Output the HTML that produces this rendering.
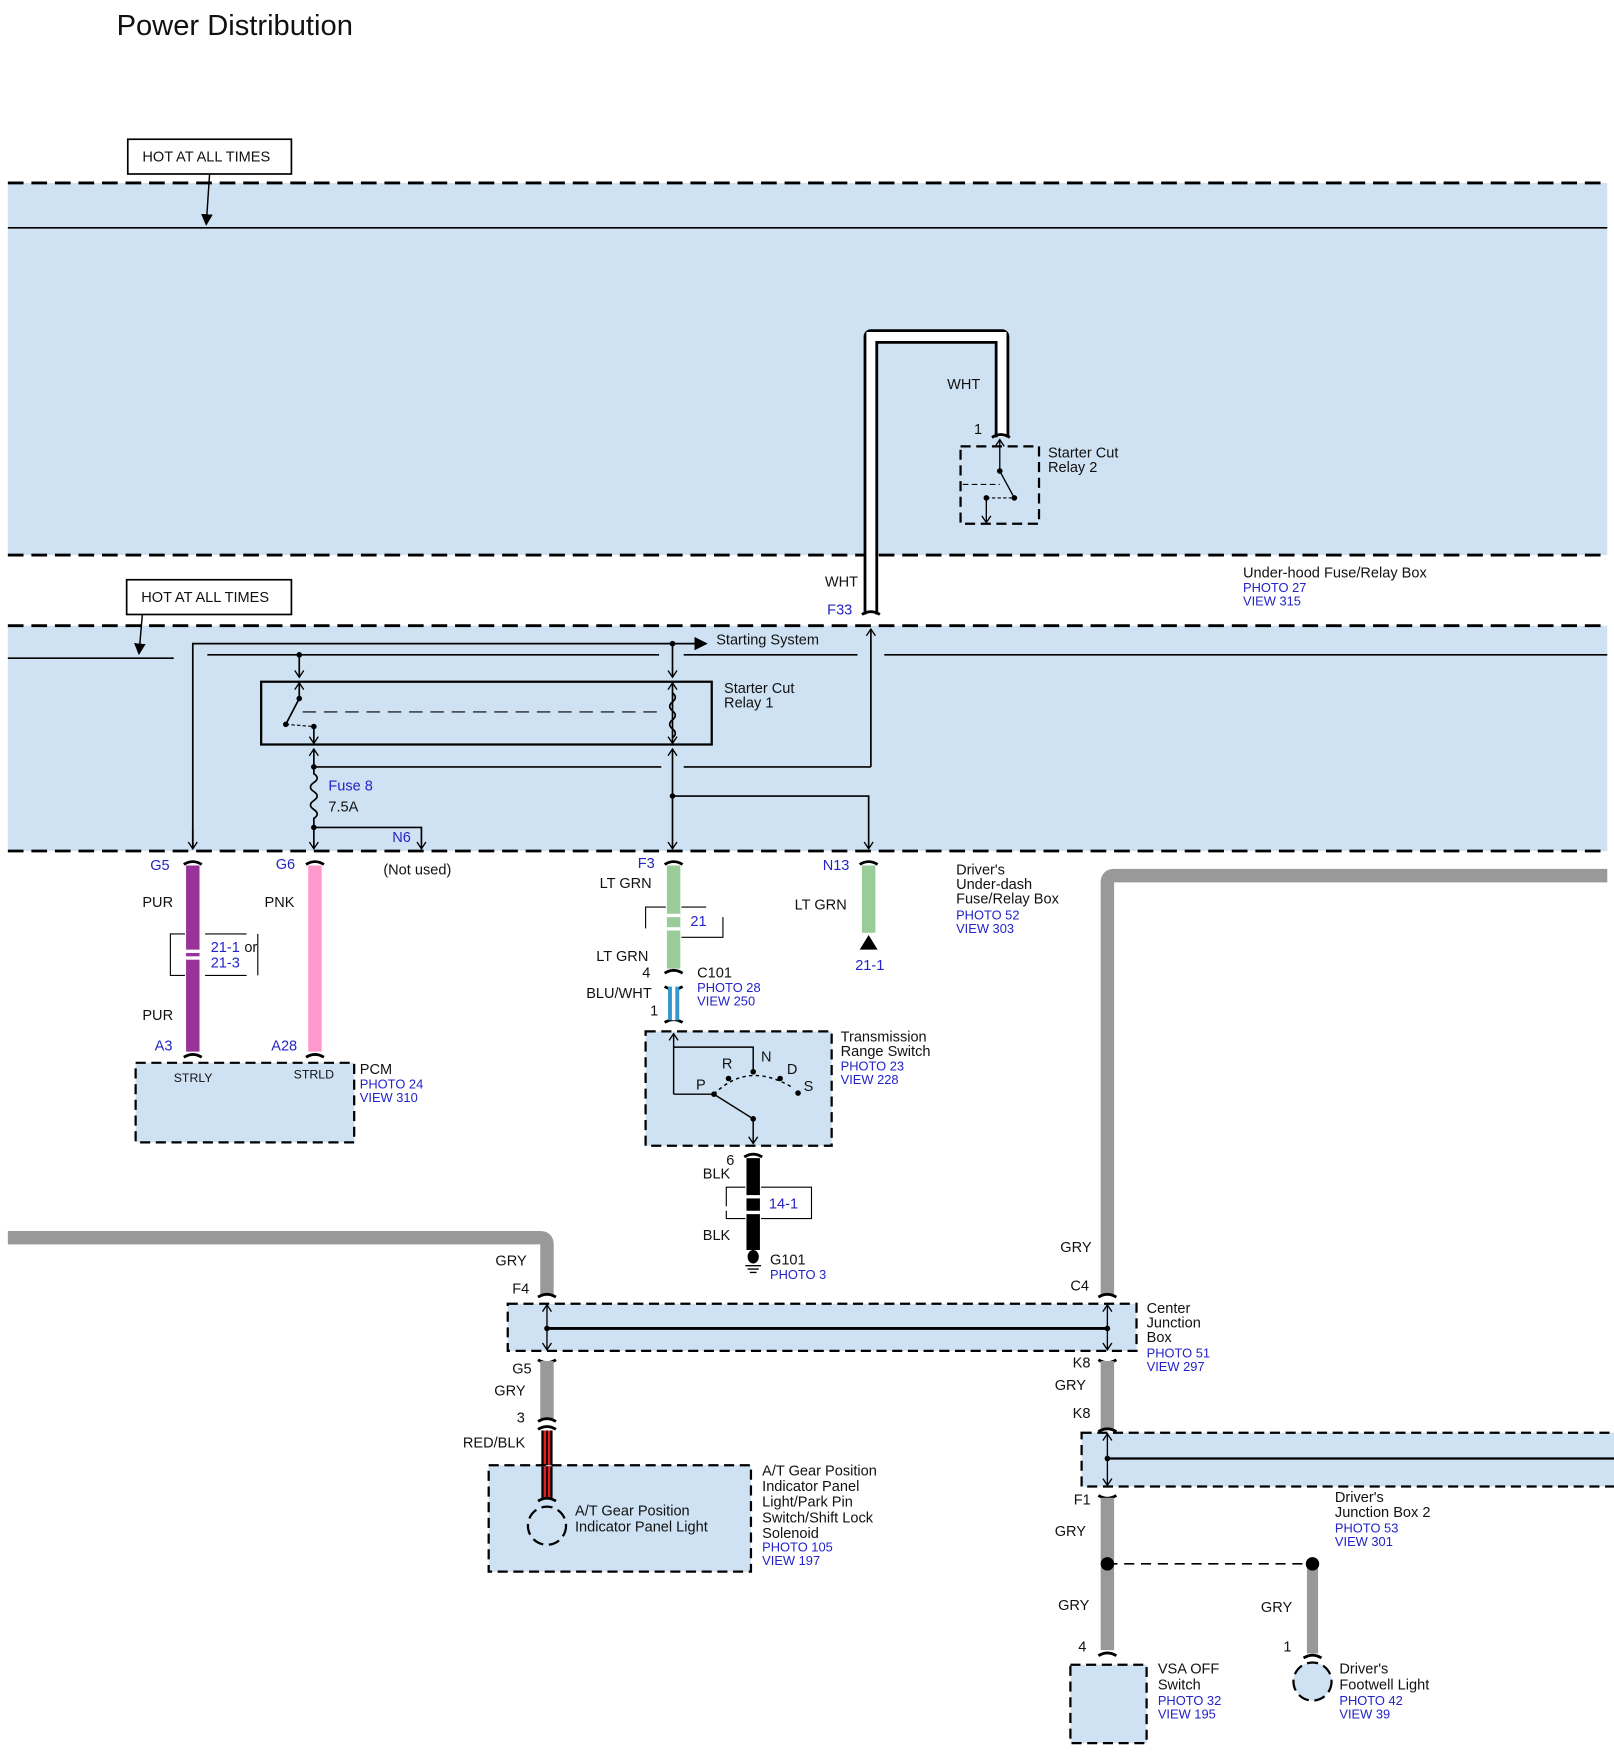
<!DOCTYPE html>
<html><head><meta charset="utf-8"><style>
html,body{margin:0;padding:0;background:#fff}
svg{display:block}
text{font-family:"Liberation Sans",Arial,sans-serif;font-size:13px;fill:#111}
.b{fill:#2323c8;font-size:11.5px}
.bl{fill:#2323c8;font-size:13px}
.s{font-size:11px}
</style></head><body>
<svg width="1614" height="1758" viewBox="0 0 1440 1568" xmlns="http://www.w3.org/2000/svg">
<defs><marker id="ar" markerWidth="8" markerHeight="8" refX="7" refY="4" orient="auto"><path d="M0,0 L8,4 L0,8 z" fill="#000"/></marker>
<marker id="av" markerWidth="10" markerHeight="10" refX="9" refY="5" orient="auto-start-reverse" markerUnits="userSpaceOnUse"><path d="M3,1 L9,5 L3,9" fill="none" stroke="#000" stroke-width="1.2"/></marker></defs>
<text x="104" y="31" style="font-size:26px">Power Distribution</text>
<!-- Under-hood -->
<rect x="7" y="163" width="1427" height="332" fill="#cfe2f3"/>
<line x1="7" y1="163" x2="1434" y2="163" stroke="#000" stroke-width="2.5" stroke-dasharray="14,7"/>
<line x1="7" y1="495" x2="1434" y2="495" stroke="#000" stroke-width="2.5" stroke-dasharray="14,7"/>
<line x1="7" y1="203" x2="1434" y2="203" stroke="#000" stroke-width="1.5"/>
<rect x="114" y="124" width="146" height="31" fill="#fff" stroke="#000" stroke-width="1.5"/>
<text x="127" y="144">HOT AT ALL TIMES</text>
<line x1="187" y1="155" x2="184" y2="200" stroke="#000" stroke-width="1.3" marker-end="url(#ar)"/>
<path d="M777,548 L777,300 L894,300 L894,390" fill="none" stroke="#000" stroke-width="13" stroke-linejoin="round"/>
<path d="M777,548 L777,300 L894,300 L894,390" fill="none" stroke="#fff" stroke-width="8"/>
<text x="845" y="347">WHT</text><text x="869" y="387">1</text>
<rect x="857" y="398" width="70" height="69" fill="none" stroke="#000" stroke-width="2" stroke-dasharray="9,5"/>
<line x1="892" y1="392" x2="892" y2="420" stroke="#000" stroke-width="1.2" marker-start="url(#av)"/>
<line x1="892" y1="420" x2="905" y2="444" stroke="#000" stroke-width="1.2"/>
<line x1="859" y1="432" x2="892" y2="432" stroke="#000" stroke-width="1" stroke-dasharray="5,3"/>
<line x1="880" y1="444" x2="905" y2="444" stroke="#000" stroke-width="1" stroke-dasharray="3,2"/>
<line x1="880" y1="444" x2="880" y2="466" stroke="#000" stroke-width="1.2" marker-end="url(#av)"/>
<circle cx="892" cy="420" r="2.5"/><circle cx="905" cy="444" r="2.5"/><circle cx="880" cy="444" r="2.5"/>
<text x="935" y="408">Starter Cut</text><text x="935" y="421">Relay 2</text>
<text x="1109" y="515">Under-hood Fuse/Relay Box</text>
<text x="1109" y="528" class="b">PHOTO 27</text><text x="1109" y="540" class="b">VIEW 315</text>
<text x="736" y="523">WHT</text><text x="738" y="548" class="bl">F33</text>
<!-- Driver's under-dash -->
<rect x="7" y="558" width="1427" height="201" fill="#cfe2f3"/>
<line x1="7" y1="558" x2="1434" y2="558" stroke="#000" stroke-width="2.5" stroke-dasharray="14,7"/>
<line x1="7" y1="759" x2="1434" y2="759" stroke="#000" stroke-width="2.5" stroke-dasharray="14,7"/>
<rect x="113" y="517" width="147" height="31" fill="#fff" stroke="#000" stroke-width="1.5"/>
<text x="126" y="537">HOT AT ALL TIMES</text>
<line x1="127" y1="548" x2="124" y2="583" stroke="#000" stroke-width="1.3" marker-end="url(#ar)"/>
<g stroke="#000" stroke-width="1.5" fill="none">
<line x1="7" y1="587" x2="155" y2="587"/>
<line x1="185" y1="584" x2="588" y2="584"/><line x1="610" y1="584" x2="765" y2="584"/><line x1="789" y1="584" x2="1434" y2="584"/>
<path d="M172,757 L172,574 L630,574" marker-end="url(#ar)"/>
<line x1="172" y1="740" x2="172" y2="757" marker-end="url(#av)"/>
<line x1="777" y1="684" x2="777" y2="561" marker-end="url(#av)"/>
<line x1="267" y1="584" x2="267" y2="604" marker-end="url(#av)"/>
<line x1="600" y1="574" x2="600" y2="604" marker-end="url(#av)"/>
<rect x="233" y="608" width="402" height="56" stroke-width="2"/>
<line x1="267" y1="609" x2="267" y2="623" marker-start="url(#av)"/>
<line x1="267" y1="623" x2="255" y2="646"/>
<line x1="270" y1="635" x2="590" y2="635" stroke-width="1" stroke-dasharray="12,7"/>
<line x1="255" y1="646" x2="280" y2="648" stroke-width="1" stroke-dasharray="3,2"/>
<line x1="280" y1="648" x2="280" y2="663" marker-end="url(#av)"/>
<line x1="600" y1="609" x2="600" y2="663" marker-start="url(#av)" marker-end="url(#av)"/>
<path d="M600,618 q5,4 0,8 q-5,4 0,8 q5,4 0,8 q-5,4 0,8 q5,4 0,8"/>
<line x1="280" y1="668" x2="280" y2="684" marker-start="url(#av)"/>
<line x1="600" y1="668" x2="600" y2="757" marker-start="url(#av)" marker-end="url(#av)"/>
<line x1="280" y1="684" x2="590" y2="684"/><line x1="610" y1="684" x2="777" y2="684"/>
<path d="M280,684 L280,690 q6,4 0,8 q-6,4 0,8 q6,4 0,8 q-6,4 0,8 q6,4 0,8 L280,757" marker-end="url(#av)"/>
<path d="M280,738 L376,738 L376,757" marker-end="url(#av)"/>
<path d="M600,710 L775,710 L775,757" marker-end="url(#av)"/>
</g>
<circle cx="600" cy="574" r="2.5"/><circle cx="267" cy="584" r="2.5"/><circle cx="267" cy="623" r="2.5"/><circle cx="255" cy="646" r="2.5"/><circle cx="280" cy="648" r="2.5"/>
<circle cx="280" cy="684" r="2.5"/><circle cx="280" cy="738" r="2.5"/><circle cx="600" cy="710" r="2.5"/>
<text x="639" y="575">Starting System</text>
<text x="646" y="618">Starter Cut</text><text x="646" y="631">Relay 1</text>
<text x="293" y="705" class="bl">Fuse 8</text><text x="293" y="724">7.5A</text>
<text x="350" y="751" class="bl">N6</text><text x="342" y="780">(Not used)</text>
<text x="853" y="780">Driver's</text><text x="853" y="793">Under-dash</text><text x="853" y="806">Fuse/Relay Box</text>
<text x="853" y="820" class="b">PHOTO 52</text><text x="853" y="832" class="b">VIEW 303</text>
<!-- connector caps -->
<g stroke="#000" stroke-width="2.5" fill="none">
<path d="M164,771 q8,-5 16,0"/><path d="M273,771 q8,-5 16,0"/><path d="M593,771 q8,-5 16,0"/><path d="M767,771 q8,-5 16,0"/>
<path d="M769,548 q8,-5 16,0"/><path d="M885,390 q8,-5 16,0"/>
</g>
<!-- wires below -->
<line x1="172" y1="772" x2="172" y2="938" stroke="#993399" stroke-width="12"/>
<line x1="281" y1="772" x2="281" y2="938" stroke="#ff99cc" stroke-width="12"/>
<line x1="601" y1="772" x2="601" y2="864" stroke="#99cc99" stroke-width="12"/>
<line x1="775" y1="772" x2="775" y2="832" stroke="#99cc99" stroke-width="12"/>
<path d="M767,847 L775,834 L783,847 z"/>
<text x="763" y="865" class="bl">21-1</text>
<text x="134" y="776" class="bl">G5</text><text x="246" y="775" class="bl">G6</text><text x="569" y="774" class="bl">F3</text><text x="734" y="776" class="bl">N13</text>
<text x="127" y="809">PUR</text><text x="236" y="809">PNK</text><text x="535" y="792">LT GRN</text><text x="709" y="811">LT GRN</text>
<rect x="166" y="847" width="12" height="3" fill="#fff"/><rect x="166" y="853" width="12" height="3" fill="#fff"/>
<path d="M165,833 L152,833 L152,870 L165,870 M183,833 L220,833 M183,870 L220,870 M230,833 L230,870" fill="none" stroke="#000" stroke-width="1"/>
<text x="188" y="849" class="bl">21-1</text><text x="218" y="849">or</text><text x="188" y="863" class="bl">21-3</text>
<text x="127" y="910">PUR</text>
<text x="138" y="937" class="bl">A3</text><text x="242" y="937" class="bl">A28</text>
<g stroke="#000" stroke-width="2.5" fill="none"><path d="M164,943 q8,-5 16,0"/><path d="M273,943 q8,-5 16,0"/></g>
<rect x="121" y="948" width="195" height="71" fill="#cfe2f3" stroke="#000" stroke-width="2" stroke-dasharray="9,5"/>
<text x="155" y="965" class="s">STRLY</text><text x="262" y="962" class="s">STRLD</text>
<text x="321" y="958">PCM</text><text x="321" y="971" class="b">PHOTO 24</text><text x="321" y="983" class="b">VIEW 310</text>
<rect x="595" y="815" width="12" height="3" fill="#fff"/><rect x="595" y="827" width="12" height="3" fill="#fff"/>
<path d="M594,809 L576,809 L576,828 M608,809 L630,809 M608,836 L645,836 L645,818" fill="none" stroke="#000" stroke-width="1"/>
<text x="616" y="826" class="bl">21</text>
<text x="532" y="857">LT GRN</text><text x="573" y="872">4</text>
<text x="622" y="872">C101</text><text x="622" y="885" class="b">PHOTO 28</text><text x="622" y="897" class="b">VIEW 250</text>
<g stroke="#000" stroke-width="2.5" fill="none"><path d="M593,868 q8,-5 16,0"/><path d="M593,880 q8,5 16,0"/><path d="M593,912 q8,-5 16,0"/></g>
<line x1="601" y1="880" x2="601" y2="910" stroke="#3399cc" stroke-width="10"/>
<line x1="601" y1="880" x2="601" y2="910" stroke="#fff" stroke-width="3"/>
<text x="523" y="890">BLU/WHT</text><text x="580" y="906">1</text>
<rect x="576" y="920" width="166" height="102" fill="#cfe2f3" stroke="#000" stroke-width="2" stroke-dasharray="9,5"/>
<g stroke="#000" stroke-width="1.3" fill="none">
<line x1="601" y1="922" x2="601" y2="976" marker-start="url(#av)"/>
<path d="M601,934 L672,934 L672,956"/><path d="M601,976 L637,976"/>
<path d="M637,976 q30,-30 70,-6" stroke-dasharray="3,3"/>
<path d="M637,976 L672,998 L672,1020" marker-end="url(#av)"/>
</g>
<circle cx="637" cy="976" r="2.5"/><circle cx="650" cy="962" r="2.5"/><circle cx="672" cy="956" r="2.5"/><circle cx="696" cy="962" r="2.5"/><circle cx="712" cy="975" r="2.5"/><circle cx="672" cy="998" r="2.5"/>
<text x="621" y="972">P</text><text x="644" y="953">R</text><text x="679" y="947">N</text><text x="702" y="958">D</text><text x="717" y="973">S</text>
<text x="750" y="929">Transmission</text><text x="750" y="942">Range Switch</text><text x="750" y="955" class="b">PHOTO 23</text><text x="750" y="967" class="b">VIEW 228</text>
<g stroke="#000" stroke-width="2.5" fill="none"><path d="M664,1032 q8,-5 16,0"/></g>
<line x1="672" y1="1033" x2="672" y2="1115" stroke="#000" stroke-width="12"/>
<rect x="666" y="1066" width="12" height="3" fill="#fff"/><rect x="666" y="1080" width="12" height="3" fill="#fff"/>
<path d="M665,1059 L648,1059 L648,1076 M679,1059 L724,1059 L724,1087 L679,1087 M648,1080 L648,1087 L665,1087" fill="none" stroke="#000" stroke-width="1"/>
<text x="648" y="1039">6</text><text x="627" y="1051">BLK</text><text x="686" y="1078" class="bl">14-1</text><text x="627" y="1106">BLK</text>
<ellipse cx="672" cy="1121" rx="5" ry="6"/><path d="M665,1129 L679,1129 M667,1132 L677,1132 M669,1135 L675,1135" stroke="#000" stroke-width="1.2"/>
<text x="687" y="1128">G101</text><text x="687" y="1141" class="b">PHOTO 3</text>
<!-- gray wires -->
<path d="M7,1104 L482,1104 Q488,1104 488,1110 L488,1155" fill="none" stroke="#999" stroke-width="12"/>
<path d="M988,1155 L988,787 Q988,781 994,781 L1434,781" fill="none" stroke="#999" stroke-width="12"/>
<text x="442" y="1129">GRY</text><text x="457" y="1154">F4</text>
<text x="946" y="1117">GRY</text><text x="955" y="1151">C4</text>
<g stroke="#000" stroke-width="2.5" fill="none"><path d="M480,1157 q8,-5 16,0"/><path d="M980,1157 q8,-5 16,0"/><path d="M480,1213 q8,5 16,0"/><path d="M980,1213 q8,5 16,0"/></g>
<rect x="453" y="1163" width="561" height="42" fill="#cfe2f3" stroke="#000" stroke-width="2" stroke-dasharray="9,5"/>
<line x1="488" y1="1185" x2="988" y2="1185" stroke="#000" stroke-width="2.5"/>
<line x1="488" y1="1164" x2="488" y2="1204" stroke="#000" stroke-width="1.2" marker-start="url(#av)" marker-end="url(#av)"/>
<line x1="988" y1="1164" x2="988" y2="1204" stroke="#000" stroke-width="1.2" marker-start="url(#av)" marker-end="url(#av)"/>
<circle cx="488" cy="1185" r="2.5"/><circle cx="988" cy="1185" r="2.5"/>
<text x="1023" y="1171">Center</text><text x="1023" y="1184">Junction</text><text x="1023" y="1197">Box</text>
<text x="1023" y="1211" class="b">PHOTO 51</text><text x="1023" y="1223" class="b">VIEW 297</text>
<line x1="488" y1="1214" x2="488" y2="1266" stroke="#999" stroke-width="12"/>
<text x="457" y="1225">G5</text><text x="441" y="1245">GRY</text><text x="461" y="1269">3</text><text x="413" y="1291">RED/BLK</text>
<g stroke="#000" stroke-width="2.5" fill="none"><path d="M480,1268 q8,-5 16,0"/><path d="M480,1275 q8,-5 16,0"/></g>
<line x1="488" y1="1276" x2="488" y2="1335" stroke="#000" stroke-width="10"/>
<line x1="488" y1="1276" x2="488" y2="1335" stroke="#e02020" stroke-width="6"/>
<line x1="488" y1="1276" x2="488" y2="1335" stroke="#000" stroke-width="1.5"/>
<rect x="436" y="1307" width="234" height="95" fill="#cfe2f3" stroke="#000" stroke-width="2" stroke-dasharray="9,5"/>
<line x1="488" y1="1308" x2="488" y2="1336" stroke="#000" stroke-width="10"/><line x1="488" y1="1308" x2="488" y2="1336" stroke="#e02020" stroke-width="6"/><line x1="488" y1="1308" x2="488" y2="1336" stroke="#000" stroke-width="1.5"/>
<path d="M480,1339 q8,-5 16,0" stroke="#000" stroke-width="2.5" fill="none"/>
<circle cx="488" cy="1361" r="17" fill="none" stroke="#000" stroke-width="2" stroke-dasharray="10,5"/>
<text x="513" y="1352">A/T Gear Position</text><text x="513" y="1366">Indicator Panel Light</text>
<text x="680" y="1316">A/T Gear Position</text><text x="680" y="1330">Indicator Panel</text><text x="680" y="1344">Light/Park Pin</text><text x="680" y="1358">Switch/Shift Lock</text><text x="680" y="1372">Solenoid</text>
<text x="680" y="1384" class="b">PHOTO 105</text><text x="680" y="1396" class="b">VIEW 197</text>
<line x1="988" y1="1214" x2="988" y2="1275" stroke="#999" stroke-width="12"/>
<text x="957" y="1220">K8</text><text x="941" y="1240">GRY</text><text x="957" y="1265">K8</text>
<path d="M980,1277 q8,-5 16,0" stroke="#000" stroke-width="2.5" fill="none"/>
<rect x="965" y="1278" width="480" height="48" fill="#cfe2f3" stroke="#000" stroke-width="2" stroke-dasharray="9,5"/>
<line x1="988" y1="1301" x2="1440" y2="1301" stroke="#000" stroke-width="2"/>
<line x1="988" y1="1279" x2="988" y2="1325" stroke="#000" stroke-width="1.2" marker-start="url(#av)" marker-end="url(#av)"/>
<circle cx="988" cy="1301" r="2.5"/>
<path d="M980,1334 q8,5 16,0" stroke="#000" stroke-width="2.5" fill="none"/>
<line x1="988" y1="1336" x2="988" y2="1472" stroke="#999" stroke-width="12"/>
<line x1="1171" y1="1395" x2="1171" y2="1475" stroke="#999" stroke-width="10"/>
<line x1="988" y1="1395" x2="1171" y2="1395" stroke="#000" stroke-width="1.5" stroke-dasharray="9,6"/>
<circle cx="988" cy="1395" r="6"/><circle cx="1171" cy="1395" r="6"/>
<text x="958" y="1342">F1</text><text x="941" y="1370">GRY</text>
<text x="1191" y="1340">Driver's</text><text x="1191" y="1353">Junction Box 2</text><text x="1191" y="1367" class="b">PHOTO 53</text><text x="1191" y="1379" class="b">VIEW 301</text>
<text x="944" y="1436">GRY</text><text x="962" y="1473">4</text><text x="1125" y="1438">GRY</text><text x="1145" y="1473">1</text>
<g stroke="#000" stroke-width="2.5" fill="none"><path d="M980,1477 q8,-5 16,0"/><path d="M1163,1479 q8,-5 16,0"/></g>
<rect x="955" y="1485" width="68" height="70" fill="#cfe2f3" stroke="#000" stroke-width="2" stroke-dasharray="9,5"/>
<circle cx="1171" cy="1500" r="17" fill="#cfe2f3" stroke="#000" stroke-width="2" stroke-dasharray="10,5"/>
<text x="1033" y="1493">VSA OFF</text><text x="1033" y="1507">Switch</text><text x="1033" y="1521" class="b">PHOTO 32</text><text x="1033" y="1533" class="b">VIEW 195</text>
<text x="1195" y="1493">Driver's</text><text x="1195" y="1507">Footwell Light</text><text x="1195" y="1521" class="b">PHOTO 42</text><text x="1195" y="1533" class="b">VIEW 39</text>
</svg>
</body></html>
